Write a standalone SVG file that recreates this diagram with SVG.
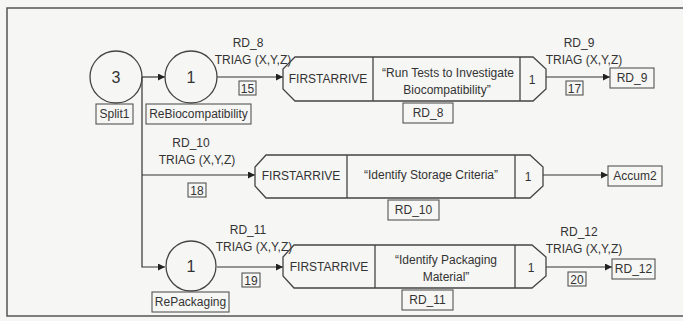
<svg xmlns="http://www.w3.org/2000/svg" width="683" height="321" viewBox="0 0 683 321">
<defs>
<style>
text{font-family:"Liberation Sans",Arial,sans-serif;font-size:12px;fill:#333;text-anchor:middle}
.big{font-size:16px}
.shape{fill:none;stroke:#444;stroke-width:1.3}
.box{fill:none;stroke:#555;stroke-width:1.1}
.conn{fill:none;stroke:#333;stroke-width:1.2}
</style>
<marker id="arr" viewBox="0 0 10 10" refX="10" refY="5" markerWidth="7" markerHeight="7" markerUnits="userSpaceOnUse" orient="auto">
<path d="M0,0 L10,5 L0,10 z" fill="#222"/>
</marker>
</defs>
<rect x="0" y="0" width="683" height="321" fill="#f6f6f4"/>
<rect x="7" y="8" width="690" height="308" fill="none" stroke="#555" stroke-width="1.5"/>

<g id="connectors">
<line class="conn" x1="142" y1="77" x2="165" y2="77" marker-end="url(#arr)"/>
<polyline class="conn" points="142,77 142,267 165,267" marker-end="url(#arr)"/>
<line class="conn" x1="142" y1="175" x2="255" y2="175" marker-end="url(#arr)"/>
<line class="conn" x1="217" y1="77" x2="283" y2="77" marker-end="url(#arr)"/>
<line class="conn" x1="217" y1="267" x2="283" y2="267" marker-end="url(#arr)"/>
<line class="conn" x1="546" y1="77" x2="610" y2="77" marker-end="url(#arr)"/>
<line class="conn" x1="543" y1="175" x2="608" y2="175" marker-end="url(#arr)"/>
<line class="conn" x1="546" y1="267" x2="612" y2="267" marker-end="url(#arr)"/>
<text x="248" y="47">RD_8</text>
<text x="253" y="64">TRIAG (X,Y,Z)</text>
<rect class="box" x="239" y="81" width="17" height="14"/>
<text x="247.5" y="92.5">15</text>
<text x="579" y="47">RD_9</text>
<text x="584" y="64">TRIAG (X,Y,Z)</text>
<rect class="box" x="566" y="81" width="17" height="14"/>
<text x="574.5" y="92.5">17</text>
<text x="191" y="147">RD_10</text>
<text x="197" y="164">TRIAG (X,Y,Z)</text>
<rect class="box" x="188" y="183" width="18" height="14"/>
<text x="197" y="194.5">18</text>
<text x="248" y="234">RD_11</text>
<text x="254" y="251">TRIAG (X,Y,Z)</text>
<rect class="box" x="242" y="273" width="18" height="14"/>
<text x="251" y="284.5">19</text>
<text x="579" y="236">RD_12</text>
<text x="584" y="253">TRIAG (X,Y,Z)</text>
<rect class="box" x="568" y="272" width="18" height="14"/>
<text x="577" y="283.5">20</text>
</g>

<g id="Split1">
<circle class="shape" cx="116" cy="77" r="26"/>
<text class="big" x="116" y="83">3</text>
<rect class="box" x="96" y="104" width="37" height="20"/>
<text x="114.5" y="118">Split1</text>
</g>

<g id="ReBiocompatibility">
<circle class="shape" cx="191" cy="77" r="26"/>
<text class="big" x="191" y="83">1</text>
<rect class="box" x="146" y="104" width="105" height="20"/>
<text x="198.5" y="118">ReBiocompatibility</text>
</g>

<g id="RePackaging">
<circle class="shape" cx="191" cy="266" r="25"/>
<text class="big" x="191" y="272">1</text>
<rect class="box" x="152" y="292" width="77" height="20"/>
<text x="190.5" y="306">RePackaging</text>
</g>

<g id="RD_8">
<polygon class="shape" points="295,57 533,57 546,69 546,89 533,101 295,101 283,89 283,69"/>
<line class="shape" x1="373" y1="57" x2="373" y2="101"/>
<line class="shape" x1="520" y1="57" x2="520" y2="101"/>
<text x="328" y="83">FIRSTARRIVE</text>
<text x="448" y="77">“Run Tests to Investigate</text>
<text x="447" y="94">Biocompatibility”</text>
<text x="532" y="84">1</text>
<rect class="box" x="403" y="103" width="50" height="20"/>
<text x="428" y="117">RD_8</text>
</g>

<g id="RD_10">
<polygon class="shape" points="266,155 530,155 543,167 543,186 530,198 266,198 255,186 255,167"/>
<line class="shape" x1="347" y1="155" x2="347" y2="198"/>
<line class="shape" x1="515" y1="155" x2="515" y2="198"/>
<text x="301" y="180">FIRSTARRIVE</text>
<text x="431" y="179">“Identify Storage Criteria”</text>
<text x="528" y="181">1</text>
<rect class="box" x="388" y="200" width="51" height="20"/>
<text x="413.5" y="214">RD_10</text>
</g>

<g id="RD_11">
<polygon class="shape" points="294,245 532,245 546,257 546,276 532,288 294,288 283,276 283,257"/>
<line class="shape" x1="375" y1="245" x2="375" y2="288"/>
<line class="shape" x1="515" y1="245" x2="515" y2="288"/>
<text x="329" y="271">FIRSTARRIVE</text>
<text x="446" y="264">“Identify Packaging</text>
<text x="446" y="281">Material”</text>
<text x="531" y="272">1</text>
<rect class="box" x="402" y="290" width="51" height="20"/>
<text x="427.5" y="304">RD_11</text>
</g>

<g id="RD_9">
<rect class="box" x="610" y="68" width="44" height="20"/>
<text x="632" y="82">RD_9</text>
</g>
<g id="Accum2">
<rect class="box" x="608" y="166" width="54" height="20"/>
<text x="635" y="180">Accum2</text>
</g>
<g id="RD_12">
<rect class="box" x="612" y="259" width="43" height="20"/>
<text x="633.5" y="273">RD_12</text>
</g>
</svg>
